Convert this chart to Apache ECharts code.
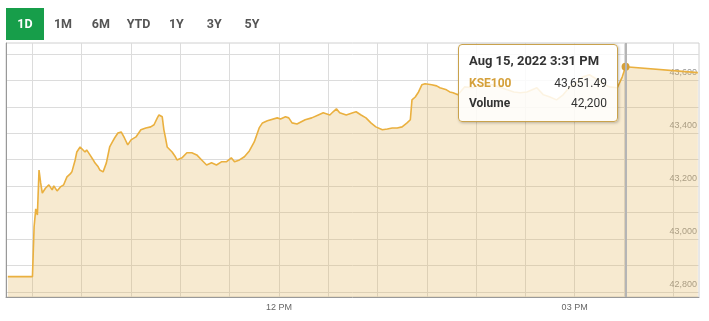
<!DOCTYPE html>
<html><head><meta charset="utf-8">
<script src="https://cdn.jsdelivr.net/npm/echarts@6/dist/echarts.min.js"></script>
<style>html,body{margin:0;padding:0;background:#fff}#c{width:709px;height:321px}</style>
</head><body><div id="c"></div>
<script>
const times = ['09:15','09:30','09:31','09:32','09:33','09:34','09:35','09:36','09:38','09:40','09:42','09:43','09:45','09:47','09:49','09:51','09:53','09:54','09:56','09:57','09:59','10:00','10:02','10:03','10:05','10:07','10:08','10:10','10:11','10:13','10:14','10:15','10:17','10:19','10:20','10:22','10:24','10:26','10:28','10:30','10:33','10:36','10:39','10:42','10:44','10:46','10:47','10:49','10:50','10:51','10:52','10:55','10:57','10:58','11:01','11:04','11:07','11:10','11:13','11:16','11:19','11:22','11:25','11:28','11:31','11:33','11:36','11:39','11:42','11:45','11:48','11:50','11:53','11:54','11:59','12:01','12:04','12:06','12:08','12:11','12:16','12:20','12:24','12:27','12:31','12:33','12:35','12:37','12:41','12:45','12:47','12:50','12:53','12:56','12:59','13:03','13:06','13:09','13:12','13:15','13:18','13:20','13:21','13:23','13:25','13:27','13:29','13:30','13:33','13:36','13:38','13:42','13:44','13:46','13:49','13:53','13:58','14:04','14:10','14:14','14:19','14:23','14:27','14:31','14:37','14:41','14:45','14:49','14:53','14:57','15:01','15:05','15:09','15:14','15:17','15:21','15:26','15:29','15:31','16:15'];
const values = [42858,42858,43046,43114,43091,43261,43212,43174,43193,43205,43186,43201,43182,43197,43205,43235,43246,43254,43299,43329,43348,43345,43329,43337,43318,43299,43288,43273,43261,43254,43261,43288,43348,43371,43382,43401,43405,43382,43356,43375,43386,43413,43420,43424,43432,43458,43469,43462,43413,43382,43348,43329,43311,43299,43307,43326,43326,43318,43299,43280,43288,43280,43292,43292,43307,43292,43299,43311,43333,43367,43420,43439,43447,43451,43458,43454,43462,43458,43439,43435,43451,43458,43469,43477,43469,43481,43492,43477,43469,43477,43481,43469,43458,43439,43424,43413,43416,43420,43420,43424,43439,43451,43526,43537,43556,43583,43587,43590,43583,43579,43572,43564,43556,43553,43545,43575,43572,43590,43583,43575,43564,43556,43553,43556,43572,43545,43537,43526,43545,43575,43590,43613,43621,43602,43590,43575,43572,43613,43651.49,43629];
const yGridValues = [42800,42900,43000,43100,43200,43300,43400,43500,43600,43700];
const yLabelValues = [42800,43000,43200,43400,43600];
const xGridTimes = ['09:30','10:00','10:30','11:00','11:30','12:00','12:30','13:00','13:30','14:00','14:30','15:00','15:30','16:00'];
const xLabelTimes = ['12:00','15:00'];
const rangeButtons = ['1D','1M','6M','YTD','1Y','3Y','5Y'];
const seriesName = 'KSE100';
const dateLabel = 'Aug 15, 2022';
const tipTime = '15:31';
const tipVolume = 42200;

function toMin(s){const p=s.split(':').map(Number);return p[0]*60+p[1];}
function h12(m){const h=Math.floor(m/60);return {h:(h%12)||12,ap:h>=12?'PM':'AM',mm:String(Math.round(m%60)).padStart(2,'0')};}

const chart = echarts.init(document.getElementById('c'));
const gold = '#d5a03a';
chart.setOption({
  animation:false,
  grid:{left:6,right:10,top:43,bottom:24,show:true,borderColor:'#d0d0d0',borderWidth:1,backgroundColor:'transparent'},
  xAxis:{type:'value',min:553.9,max:975.7,
    axisLine:{show:true,onZero:false,lineStyle:{color:'#999',width:1}},
    axisTick:{show:false,customValues:xGridTimes.map(toMin)},
    splitLine:{show:true,lineStyle:{color:'#dcdcdc',width:1}},
    axisLabel:{customValues:xLabelTimes.map(toMin),color:'#666',fontSize:9,fontFamily:'Arial, Liberation Sans',margin:6,
      formatter:v=>{const t=h12(v);return String(t.h).padStart(2,'0')+' '+t.ap;}}
  },
  yAxis:[{type:'value',position:'right',min:42781,max:43741,
    axisLine:{show:false},axisTick:{show:false,customValues:yGridValues},
    splitLine:{show:true,lineStyle:{color:'#dcdcdc',width:1}},
    axisLabel:{inside:true,customValues:yLabelValues,color:'#999',fontSize:9,fontFamily:'Arial, Liberation Sans',
      verticalAlign:'bottom',lineHeight:15,margin:2,formatter:v=>v.toLocaleString('en-US')}
  },{type:'value',position:'left',min:42781,max:43741,
    axisLine:{show:true,lineStyle:{color:'#999',width:1}},axisTick:{show:false},splitLine:{show:false},axisLabel:{show:false}}],
  tooltip:{trigger:'axis',triggerOn:'none',alwaysShowContent:true,
    axisPointer:{type:'line',animation:false,lineStyle:{color:'#b5b5b5',width:2,type:'solid'}},
    position:[458,44],padding:0,borderWidth:1,borderColor:'#c9a24c',borderRadius:4,
    backgroundColor:'rgba(255,255,255,0.85)',transitionDuration:0,
    extraCssText:'box-shadow:1px 1px 3px rgba(0,0,0,0.25);',
    formatter:ps=>{const p=ps[0];const t=h12(p.value[0]);
      const val=p.value[1].toLocaleString('en-US',{minimumFractionDigits:2,maximumFractionDigits:2});
      return '<div style="width:138px;padding:6px 10px 8px 10px;font-family:Roboto;color:#333;">'+
        '<div style="font-weight:bold;font-size:13px;line-height:20px;margin-bottom:2px;white-space:nowrap">'+dateLabel+' '+t.h+':'+t.mm+' '+t.ap+'</div>'+
        '<div style="display:flex;justify-content:space-between;font-size:12px;line-height:20px"><span style="font-weight:bold;color:'+gold+'">'+p.seriesName+'</span><span>'+val+'</span></div>'+
        '<div style="display:flex;justify-content:space-between;font-size:12px;line-height:20px"><span style="font-weight:bold">Volume</span><span>'+tipVolume.toLocaleString('en-US')+'</span></div></div>';}
  },
  graphic:[{type:'rect',shape:{x:6,y:8,width:38,height:32},style:{fill:'#179e4a'}}].concat(
    rangeButtons.map((b,i)=>({type:'text',x:i===0?25:63+37.8*(i-1),y:24.5,
      style:{text:b,fill:i===0?'#fff':'#555',font:'bold 12.5px Roboto',align:'center',verticalAlign:'middle'}}))),
  series:[{type:'line',name:seriesName,data:times.map((t,i)=>[toMin(t),values[i]]),
    showSymbol:false,symbol:'circle',symbolSize:8,
    lineStyle:{color:gold,width:1.6},itemStyle:{color:gold},
    areaStyle:{color:'rgba(205,158,60,0.36)'},
    emphasis:{scale:false,focus:'none',lineStyle:{width:1.6}}}]
});
chart.dispatchAction({type:'showTip',seriesIndex:0,dataIndex:times.indexOf(tipTime)});
</script></body></html>
